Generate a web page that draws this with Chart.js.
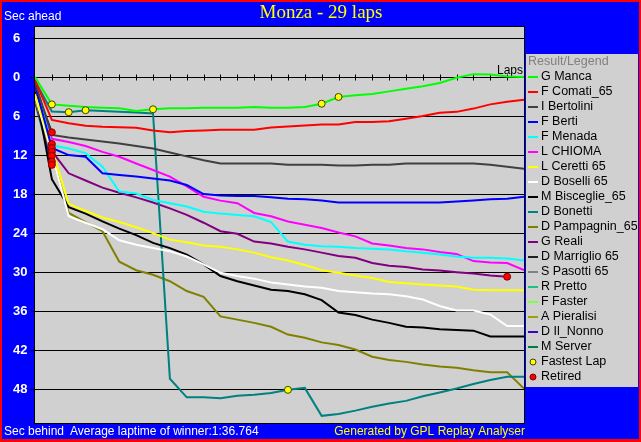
<!DOCTYPE html>
<html>
<head>
<meta charset="utf-8">
<title>Monza - 29 laps</title>
<script src="https://cdn.jsdelivr.net/npm/chart.js@4.4.0/dist/chart.umd.min.js"></script>
<style>
  html, body { margin: 0; padding: 0; background: #0000ff; }
  canvas { display: block; }
</style>
</head>
<body>
<canvas id="gap-chart" width="641" height="442"></canvas>
<script>
// laps on the x axis
const laps = [0, 1, 2, 3, 4, 5, 6, 7, 8, 9, 10, 11, 12, 13, 14, 15, 16, 17, 18, 19, 20, 21, 22, 23, 24, 25, 26, 27, 28, 29];

const drivers = ["G Manca", "F Comati_65", "I Bertolini", "F Berti", "F Menada", "L CHIOMA", "L Ceretti 65",
  "D Boselli 65", "M Bisceglie_65", "D Bonetti", "D Pampagnin_65", "G Reali", "D Marriglio 65",
  "S Pasotti 65", "R Pretto", "F Faster", "A Pieralisi", "D Il_Nonno", "M Server"];
const colors = ["#00ff00", "#ff0000", "#404040", "#0000ff", "#00ffff", "#ff00ff", "#ffff00",
  "#ffffff", "#000000", "#008080", "#808000", "#800080", "#202020",
  "#808080", "#20c080", "#80ff40", "#a0a000", "#4000c0", "#008040"];

// seconds behind, one value per lap (lap 0 = start)
const manca = [0, 4.2, 4.4, 4.6, 4.7, 4.8, 5.2, 4.95, 4.8, 4.8, 4.7, 4.7, 4.7, 4.6, 4.7, 4.7, 4.6, 4.1, 3.06, 2.8, 2.6, 2.2, 1.8, 1.4, 0.9, 0.1, -0.45, -0.4, -0.1, 0];
const comati = [0.4, 6.6, 7.1, 7.5, 7.65, 7.7, 7.8, 8.2, 8.5, 8.3, 8.2, 8.1, 8.1, 8.1, 7.75, 7.6, 7.45, 7.3, 7.3, 6.9, 6.9, 6.8, 6.4, 6.0, 5.5, 5.35, 4.85, 4.2, 3.8, 3.5];
const bertolini = [0.8, 8.9, 9.3, 9.6, 9.9, 10.2, 10.6, 11.0, 11.6, 12.2, 12.8, 13.3, 13.3, 13.3, 13.3, 13.5, 13.5, 13.5, 13.6, 13.6, 13.5, 13.5, 13.3, 13.3, 13.3, 13.3, 13.3, 13.5, 13.8, 14.1];
const berti = [1.2, 10.9, 12.0, 12.25, 14.8, 15.05, 15.3, 15.6, 15.9, 16.6, 18.0, 18.2, 18.3, 18.3, 18.5, 18.7, 18.8, 19.0, 19.3, 19.3, 19.3, 19.3, 19.3, 19.3, 19.3, 19.15, 19.0, 18.8, 18.7, 18.4];
const menada = [1.0, 10.5, 11.0, 11.7, 13.8, 17.6, 17.9, 18.9, 19.4, 19.9, 20.7, 21.0, 21.2, 21.4, 22.3, 25.3, 25.8, 26.0, 26.1, 26.3, 26.4, 26.5, 26.8, 27.0, 27.3, 27.6, 27.8, 27.8, 27.9, 28.2];
const chioma = [1.4, 9.5, 10.0, 10.6, 11.5, 12.25, 13.3, 14.3, 15.3, 16.8, 18.4, 19.0, 19.4, 20.9, 21.4, 22.2, 22.7, 23.2, 23.9, 24.5, 25.6, 25.9, 26.3, 26.5, 26.9, 27.2, 28.3, 28.5, 28.6, 29.7];
const ceretti = [2.6, 11.0, 19.5, 20.6, 21.6, 22.3, 23.1, 24.0, 25.0, 25.4, 25.9, 26.1, 26.5, 27.0, 27.7, 28.2, 28.9, 29.7, 30.1, 30.5, 30.9, 31.5, 31.7, 31.9, 32.05, 32.2, 32.7, 32.8, 32.8, 32.8];
const boselli = [2.8, 11.8, 21.4, 22.4, 23.4, 25.1, 25.8, 26.3, 26.8, 27.6, 28.8, 30.1, 30.6, 31.0, 31.6, 31.9, 32.2, 32.4, 32.9, 33.1, 33.3, 33.4, 33.7, 34.2, 35.2, 35.9, 35.9, 36.5, 38.3, 38.3];
const bisceglie = [1.8, 15.7, 20.0, 21.0, 22.2, 23.3, 24.3, 25.5, 26.3, 27.3, 28.8, 30.6, 31.4, 32.05, 32.7, 32.9, 33.4, 34.3, 36.2, 36.6, 37.3, 37.8, 38.4, 38.5, 38.8, 38.9, 39.0, 39.9, 39.9, 39.9];
const bonetti = [0.6, 5.3, 5.4, 5.1, 5.2, 5.35, 5.45, 5.6, 46.4, 49.25, 49.25, 49.4, 49.0, 48.85, 48.6, 48.1, 47.8, 52.1, 51.8, 51.3, 50.7, 50.2, 49.8, 49.1, 48.5, 47.9, 47.2, 46.6, 46.1, 46.1];
const pampagnin = [3.2, 11.9, 20.9, 22.3, 23.7, 28.4, 29.7, 30.4, 31.4, 32.9, 33.8, 36.8, 37.3, 37.8, 38.4, 39.6, 40.1, 40.8, 41.2, 41.9, 43.0, 43.5, 43.8, 44.2, 44.5, 44.7, 45.1, 45.4, 45.4, 47.9];
const reali = [2.2, 11.4, 14.8, 15.9, 17.0, 17.8, 18.5, 19.3, 20.2, 21.2, 22.4, 23.7, 24.1, 25.3, 25.6, 26.1, 26.5, 27.0, 27.5, 27.8, 28.6, 29.0, 29.2, 29.6, 29.75, 30.0, 30.2, 30.5, 30.7];
const marriglio = [1.6, 8.5];
const pasotti = [2.0, 10.3];
const pretto = [2.4, 10.9];
const faster = [3.0, 11.5];
const pieralisi = [3.4, 12.1];
const ilNonno = [3.6, 13.0];
const server = [3.8, 13.5];

const gaps = [manca, comati, bertolini, berti, menada, chioma, ceretti, boselli, bisceglie, bonetti,
  pampagnin, reali, marriglio, pasotti, pretto, faster, pieralisi, ilNonno, server];

// fastest lap so far: who and on which lap
const fastestDriver = ["G Manca", "D Bonetti", "D Bonetti", "G Manca", "D Bonetti", "G Manca", "G Manca"];
const fastestLap = [1, 2, 3, 7, 15, 17, 18];

const retiredDrivers = ["D Marriglio 65", "S Pasotti 65", "R Pretto", "F Faster", "A Pieralisi",
  "D Il_Nonno", "M Server", "G Reali"];

const yTicks = [-6, 0, 6, 12, 18, 24, 30, 36, 42, 48];

const datasets = drivers.map((name, i) => ({
  label: name,
  data: gaps[i].map((v, k) => ({ x: laps[k], y: v })),
  borderColor: colors[i],
  backgroundColor: colors[i],
  borderWidth: 2,
  pointRadius: 0,
  tension: 0,
  fill: false,
}));

datasets.push({
  label: "Fastest Lap",
  type: "scatter",
  data: fastestDriver.map((d, k) => ({ x: fastestLap[k], y: gaps[drivers.indexOf(d)][fastestLap[k]] })),
  pointRadius: 3.5,
  pointBackgroundColor: "#ffff00",
  pointBorderColor: "#404000",
  pointBorderWidth: 1,
  order: -1,
});
datasets.push({
  label: "Retired",
  type: "scatter",
  data: retiredDrivers.map((d) => {
    const g = gaps[drivers.indexOf(d)];
    return { x: laps[g.length - 1], y: g[g.length - 1] };
  }),
  pointRadius: 3.5,
  pointBackgroundColor: "#ff0000",
  pointBorderColor: "#800000",
  pointBorderWidth: 1,
  order: -1,
});

const sans = "'Liberation Sans', Arial, sans-serif";

const decor = {
  id: "decor",
  beforeDraw(chart) {
    const { ctx, chartArea: a, width, height } = chart;
    ctx.save();
    ctx.fillStyle = "#ff0000";
    ctx.fillRect(0, 0, width, height);
    ctx.fillStyle = "#0000ff";
    ctx.fillRect(2, 2, width - 4, height - 5);
    ctx.fillStyle = "#d0d0d0";
    ctx.fillRect(a.left, a.top, a.right - a.left, a.bottom - a.top);
    // legend box
    ctx.fillRect(526, 54, 112, 333);
    ctx.restore();
  },
  beforeDatasetsDraw(chart) {
    const { ctx, scales: { x, y } } = chart;
    const y0 = Math.round(y.getPixelForValue(0)) + 0.5;
    ctx.save();
    ctx.strokeStyle = "#000000";
    ctx.lineWidth = 1;
    ctx.beginPath();
    laps.forEach((lap) => {
      if (lap === 0) return;
      const px = Math.round(x.getPixelForValue(lap)) + 0.5;
      ctx.moveTo(px, y0 - 3);
      ctx.lineTo(px, y0 + 3);
    });
    ctx.stroke();
    ctx.fillStyle = "#000000";
    ctx.font = "12px " + sans;
    ctx.textAlign = "right";
    ctx.textBaseline = "middle";
    ctx.fillText("Laps", x.right - 1, y0 - 7);
    ctx.restore();
  },
  afterDraw(chart) {
    const { ctx, chartArea: a } = chart;
    ctx.save();
    ctx.strokeStyle = "#000000";
    ctx.lineWidth = 1;
    ctx.strokeRect(a.left - 0.5, a.top - 0.5, a.right - a.left + 1, a.bottom - a.top + 1);

    ctx.textBaseline = "middle";
    ctx.fillStyle = "#ffff00";
    ctx.font = "19px 'Liberation Serif', 'Times New Roman', serif";
    ctx.textAlign = "center";
    ctx.fillText("Monza - 29 laps", 321, 13);

    ctx.font = "12px " + sans;
    ctx.textAlign = "left";
    ctx.fillStyle = "#ffffff";
    ctx.fillText("Sec ahead", 4, 17);
    ctx.fillText("Sec behind", 4, 432);
    ctx.fillText("Average laptime of winner:1:36.764", 70, 432);
    ctx.fillStyle = "#ffff00";
    ctx.textAlign = "right";
    ctx.fillText("Generated by GPL Replay Analyser", 525, 432);

    // legend
    ctx.textAlign = "left";
    ctx.font = "12.5px " + sans;
    ctx.fillStyle = "#808080";
    ctx.fillText("Result/Legend", 528, 62);
    drivers.forEach((name, i) => {
      const ly = 77 + 15 * i;
      ctx.strokeStyle = colors[i];
      ctx.lineWidth = 2;
      ctx.beginPath();
      ctx.moveTo(528, ly);
      ctx.lineTo(538, ly);
      ctx.stroke();
      ctx.fillStyle = "#000000";
      ctx.fillText(name, 541, ly);
    });
    [["Fastest Lap", "#ffff00", "#404000"], ["Retired", "#ff0000", "#800000"]].forEach((m, k) => {
      const ly = 77 + 15 * (drivers.length + k);
      ctx.fillStyle = m[1];
      ctx.strokeStyle = m[2];
      ctx.lineWidth = 1;
      ctx.beginPath();
      ctx.arc(533, ly, 3, 0, Math.PI * 2);
      ctx.fill();
      ctx.stroke();
      ctx.fillStyle = "#000000";
      ctx.fillText(m[0], 541, ly);
    });
    ctx.restore();
  },
};

new Chart(document.getElementById("gap-chart").getContext("2d"), {
  type: "line",
  data: { datasets },
  options: {
    responsive: false,
    animation: false,
    devicePixelRatio: 1,
    layout: { padding: { left: 13, top: 27, right: 117, bottom: 19 } },
    plugins: {
      legend: { display: false },
      tooltip: { enabled: false },
      title: { display: false },
    },
    scales: {
      x: { type: "linear", min: 0, max: 29, display: false },
      y: {
        type: "linear",
        reverse: true,
        min: -7.7,
        max: 53.2,
        afterFit(scale) { scale.width = 22; },
        afterBuildTicks(scale) { scale.ticks = yTicks.map((v) => ({ value: v })); },
        ticks: {
          color: "#ffffff",
          font: { family: sans, size: 13, weight: "bold" },
          crossAlign: "far",
          padding: 0,
          callback: (v) => Math.abs(v),
        },
        grid: { color: "#000000", lineWidth: 1, tickLength: 4, drawTicks: true },
        border: { display: false },
      },
    },
  },
  plugins: [decor],
});
</script>
</body>
</html>
